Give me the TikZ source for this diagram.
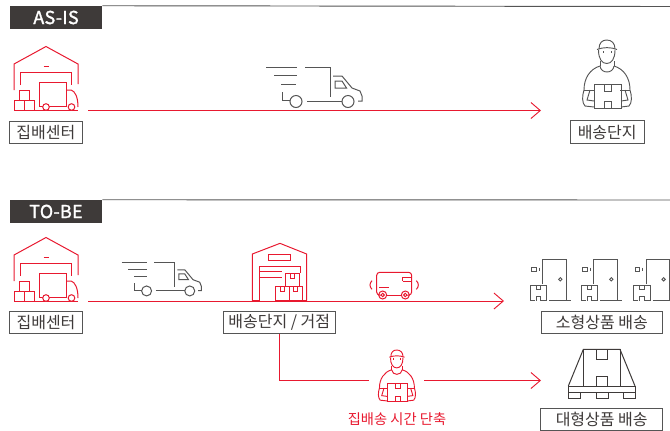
\documentclass[tikz,border=0pt]{standalone}
\usepackage{fontspec}
\setmainfont{Noto Sans CJK KR}
\usetikzlibrary{arrows.meta}
\definecolor{hred}{HTML}{E8192F}
\definecolor{hgray}{HTML}{555555}
\definecolor{hdark}{HTML}{3E3A39}
\newfontfamily\hdrfont[FakeBold=1.6,LetterSpace=2]{Noto Sans CJK KR}
\tikzset{
  hdrbox/.style={fill=hdark,draw=none,text=white,font=\fontsize{13.4pt}{15pt}\hdrfont,inner sep=0pt},
  labelbox/.style={draw=hgray,line width=.7pt,fill=white,text=hdark,font=\fontsize{12pt}{14pt}\selectfont,inner sep=0pt,anchor=center},
  conn/.style={draw=hred,line width=.75pt},
  connarrow/.style={conn,-{Straight Barb[length=7pt,width=12pt,line width=.7pt]}},
  wh/.pic={
    \begin{scope}[shift={(-46,-110)},line width=.75pt,draw=hred]
      \draw (14,90) -- (14,64) -- (46,46.5) -- (78,64) -- (78,84);
      \draw (43.5,66.5) -- (48.5,66.5);
      \draw (20,85) -- (20,72.5) -- (71.5,72.5) -- (71.5,85);
      \draw (14,110) -- (78,110);
      \draw (39.5,106) -- (39.5,82) -- (66,82) -- (66,106) -- cycle;
      \draw (66,90) -- (71,90) .. controls (75,91) and (78,97) .. (78,107);
      \draw[fill=white] (46,107) circle (3.3);
      \draw[fill=white] (71.5,107) circle (3.3);
      \draw (14,100) rectangle (24.5,110);
      \draw (24.5,100) rectangle (34,110);
      \draw (19,90.5) rectangle (29,100);
    \end{scope}},
  tr/.pic={
    \begin{scope}[shift={(-266,-67)},line width=.75pt,draw=hgray]
      \draw (266,67) -- (297,67);
      \draw (274,75.5) -- (297,75.5);
      \draw (281,84) -- (296,84);
      \draw (282,92) -- (282,100.5) -- (290,100.5);
      \draw (296,101.5) circle (6);
      \draw (307,101) -- (342,101);
      \draw (348,101.5) circle (6);
      \draw (305,67) -- (330,67) -- (330,97);
      \draw (333,76) -- (342,76) -- (352,88) -- (360,91) -- (362,96) -- (362,101) -- (358,101);
      \draw (335,88) -- (335,81) -- (342,81) -- (346.5,88) -- cycle;
    \end{scope}},
  man/.pic={
    \begin{scope}[shift={(-606.7,-40)},line width=.7pt]
      \draw (599,49) .. controls (599,43) and (602,40) .. (606.7,40) .. controls (611.5,40) and (615,43) .. (615,49);
      \draw (597,49.5) .. controls (603,47) and (611,47) .. (617,49.5);
      \draw (598.5,50) .. controls (598.5,59) and (602,63.5) .. (606.7,63.5) .. controls (611.5,63.5) and (615,59) .. (615,50);
      \draw (603,51) -- (603,53);
      \draw (611,51) -- (611,53);
      \draw (600,61) -- (600,66);
      \draw (614,61) -- (614,66);
      \draw (600,66) .. controls (601,74) and (613,74) .. (614,66);
      \draw (600,66) .. controls (590,69) and (584,78) .. (584,90);
      \draw (614,66) .. controls (624,69) and (630,78) .. (630,90);
      \draw (584,90) -- (594,90);
      \draw (620,90) -- (630,90);
      \draw (584,90) .. controls (582,96) and (582,103) .. (585,106) -- (594,107);
      \draw (630,90) .. controls (632,96) and (632,103) .. (629,106) -- (621,107);
      \draw (590,90) -- (587,100) -- (594,101);
      \draw (625,90) -- (628,100) -- (621,101);
      \draw (594,84.5) rectangle (621,108);
      \draw (604.5,84.5) rectangle (611,91);
      \draw (604.5,101) rectangle (611,108);
    \end{scope}},
  door/.pic={
    \begin{scope}[shift={(-530,-245)},line width=.7pt,draw=hgray]
      \draw (531.7,267.7) rectangle (536,271);
      \draw (539.3,267.7) -- (539.3,271);
      \draw (542.7,284) -- (542.7,259.3) -- (566,259.3) -- (566,300.7);
      \draw (549.3,300.7) -- (570.7,300.7);
      \draw (560.3,279.3) circle (1.7);
      \draw (530,300.7) -- (530,285) -- (546.7,285) -- (546.7,300.7);
      \draw (530,300.7) -- (535,300.7);
      \draw (541,300.7) -- (546.7,300.7);
      \draw (536,285) -- (536,289) -- (540.7,289) -- (540.7,285);
      \draw (536,300.7) -- (536,296.7) -- (540.7,296.7) -- (540.7,300.7);
    \end{scope}}
}
\begin{document}
\begin{tikzpicture}[x=.75pt,y=-.75pt]
\useasboundingbox (0,0) rectangle (670,430);
% headers
\coordinate (ruleA) at (670,6.5);
\coordinate (ruleB) at (670,200);
\node[hdrbox,minimum width=69pt,minimum height=17.25pt] (hdrA) at (56,17.5) {AS-IS};
\node[hdrbox,minimum width=69pt,minimum height=17.25pt] (hdrB) at (56,211.5) {TO-BE};
\draw[hgray,line width=.7pt] (hdrA.north east) -- (ruleA);
\draw[hgray,line width=.7pt] (hdrB.north east) -- (ruleB);
% icons
\pic at (46,110) {wh};
\pic at (46,301) {wh};
\pic at (266,67) {tr};
\pic[scale=.83] at (121.7,262.3) {tr};
\pic[draw=hgray] at (606.7,40) {man};
\pic[draw=hred,scale=.76] at (396.7,350) {man};
% hub building
\begin{scope}[draw=hred,line width=.75pt,x=.25pt,y=-.25pt,shift={(157.5pt,-172.5pt)}]
  \draw (127,212) -- (127,72) -- (210,40) -- (290,72) -- (290,212);
  \draw (127,212) -- (148,212) -- (148,108) -- (270,108) -- (270,130);
  \draw (148,125) -- (216,125);
  \draw (148,143) -- (216,143);
  \draw (175,72) rectangle (242,92);
  \draw (196,170) rectangle (237,212);
  \draw (237,170) rectangle (278,212);
  \draw (227,130) rectangle (268,170);
  \draw (210,170) -- (210,184) -- (222,184) -- (222,170);
  \draw (251,170) -- (251,184) -- (263,184) -- (263,170);
  \draw (241,130) -- (241,144) -- (253,144) -- (253,130);
  \draw (278,212) -- (290,212);
  % van
  \draw[rounded corners=2.25pt] (508,195) -- (500,195) -- (500,127) -- (605,127) -- (605,195) -- (598,195);
  \draw (530,195) -- (574,195);
  \draw (578,153) -- (578,141) -- (605,141);
  \draw (578,153) -- (605,153);
  \draw (508,172) -- (538,172);
  \draw (518,195) circle (12);
  \draw (518,195) circle (5);
  \draw (586,195) circle (12);
  \draw (586,195) circle (5);
  \draw (486,152) .. controls (478,160) and (478,170) .. (486,178);
  \draw (619,152) .. controls (627,160) and (627,170) .. (619,178);
\end{scope}
% doors
\pic at (530,245) {door};
\pic at (581,245) {door};
\pic at (633.3,245) {door};
% pallet
\begin{scope}[draw=hdark,line width=.75pt,x=.25pt,y=-.25pt,shift={(390pt,-255pt)}]
  \draw (145,138) -- (190,28) -- (300,28) -- (345,138);
  \draw (190,28) -- (190,138);
  \draw (300,28) -- (300,138);
  \draw (145,138) rectangle (345,157);
  \draw (145,157) -- (145,175) -- (182,175) -- (182,157);
  \draw (228,157) -- (228,175) -- (265,175) -- (265,157);
  \draw (310,157) -- (310,175) -- (345,175) -- (345,157);
  \draw (228,28) -- (228,58) -- (262,58) -- (262,28);
  \draw (228,138) -- (228,108) -- (262,108) -- (262,138);
\end{scope}
% labels
\node[labelbox,minimum width=54.75pt,minimum height=16.5pt] (srcA) at (45.8,132.3) {집배센터};
\node[labelbox,minimum width=55.25pt,minimum height=17pt] (dstA) at (607.2,132) {배송단지};
\node[labelbox,minimum width=55pt,minimum height=16.5pt] (srcB) at (46,322.7) {집배센터};
\node[labelbox,minimum width=83.5pt,minimum height=16.5pt] (hub) at (279.3,322.3) {배송단지 / 거점};
\node[labelbox,minimum width=91.25pt,minimum height=16.25pt] (small) at (601.8,322.5) {소형상품 배송};
\node[labelbox,minimum width=91.5pt,minimum height=16.25pt] (large) at (601.7,419.7) {대형상품 배송};
\node[text=hred,font=\fontsize{10.7pt}{13pt}\selectfont,inner sep=0pt] (fast) at (397,419.3) {집배송 시간 단축};
% connectors
\coordinate (a0) at (88,110.5);
\coordinate (a1) at (541,110.5);
\coordinate (b0) at (88,301);
\coordinate (b1) at (504,301);
\coordinate (c0) at (279.5,380.5);
\coordinate (c1) at (369,380.5);
\coordinate (d0) at (424,380.5);
\coordinate (d1) at (541,380.5);
\draw[connarrow] (a0) -- (a1);
\draw[connarrow] (b0) -- (b1);
\draw[conn] (hub.south -| c0) -- (c0) -- (c1);
\draw[connarrow] (d0) -- (d1);
\end{tikzpicture}
\end{document}
